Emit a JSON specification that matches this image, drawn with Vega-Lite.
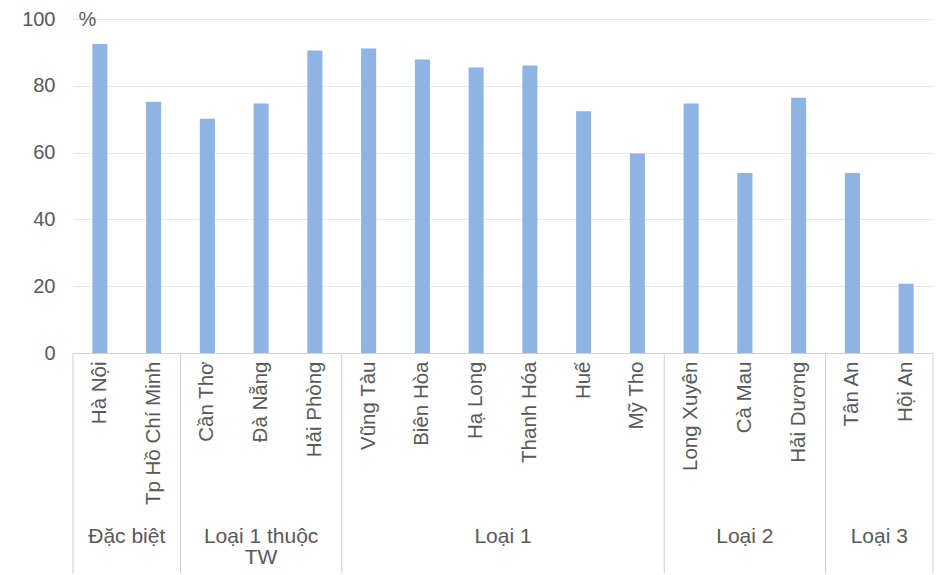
{
  "$schema": "https://vega.github.io/schema/vega-lite/v6.json",
  "autosize": "none",
  "width": 860,
  "height": 334,
  "padding": {"left": 73, "top": 19, "right": 7, "bottom": 222},
  "background": "#ffffff",
  "config": {
    "font": "Liberation Sans",
    "view": {"stroke": null},
    "axis": {"labelColor": "#595959", "titleColor": "#595959", "titleFontWeight": "normal"}
  },
  "data": {
    "values": [
      {"city": "Hà Nội", "group": "Đặc biệt", "value": 92.5},
      {"city": "Tp Hồ Chí Minh", "group": "Đặc biệt", "value": 75.2},
      {"city": "Cần Thơ", "group": "Loại 1 thuộc\nTW", "value": 70.1},
      {"city": "Đà Nẵng", "group": "Loại 1 thuộc\nTW", "value": 74.7},
      {"city": "Hải Phòng", "group": "Loại 1 thuộc\nTW", "value": 90.6},
      {"city": "Vũng Tàu", "group": "Loại 1", "value": 91.2},
      {"city": "Biên Hòa", "group": "Loại 1", "value": 87.9},
      {"city": "Hạ Long", "group": "Loại 1", "value": 85.5},
      {"city": "Thanh Hóa", "group": "Loại 1", "value": 86.1},
      {"city": "Huế", "group": "Loại 1", "value": 72.4},
      {"city": "Mỹ Tho", "group": "Loại 1", "value": 59.7},
      {"city": "Long Xuyên", "group": "Loại 2", "value": 74.7},
      {"city": "Cà Mau", "group": "Loại 2", "value": 53.9},
      {"city": "Hải Dương", "group": "Loại 2", "value": 76.4},
      {"city": "Tân An", "group": "Loại 3", "value": 53.9},
      {"city": "Hội An", "group": "Loại 3", "value": 20.7}
    ]
  },
  "layer": [
    {
      "mark": {"type": "bar", "color": "#8db4e2"},
      "encoding": {
        "x": {
          "field": "city",
          "type": "nominal",
          "sort": null,
          "scale": {"paddingInner": 0.72, "paddingOuter": 0.36},
          "axis": {
            "title": null,
            "labelAngle": -90,
            "labelAlign": "right",
            "labelBaseline": "middle",
            "labelPadding": 8,
            "labelFontSize": 20.5,
            "labelLimit": 200,
            "ticks": false,
            "domainColor": "#d0d0d0",
            "grid": false
          }
        },
        "y": {
          "field": "value",
          "type": "quantitative",
          "scale": {"domain": [0, 100], "nice": false},
          "axis": {
            "values": [0, 20, 40, 60, 80, 100],
            "grid": true,
            "gridColor": "#e8e8e8",
            "domain": false,
            "ticks": false,
            "labelFontSize": 20,
            "labelPadding": 18,
            "title": "%",
            "titleAngle": 0,
            "titleAlign": "left",
            "titleBaseline": "middle",
            "titleFontSize": 20,
            "titleX": 5,
            "titleY": 0
          }
        }
      }
    },
    {
      "transform": [
        {"window": [{"op": "row_number", "as": "idx"}]},
        {"aggregate": [{"op": "min", "field": "idx", "as": "first"}, {"op": "max", "field": "idx", "as": "last"}], "groupby": ["group"]},
        {"calculate": "datum.first - 1", "as": "start"},
        {"fold": ["start", "last"], "as": ["edge", "pos"]},
        {"aggregate": [{"op": "count", "as": "n"}], "groupby": ["pos"]}
      ],
      "mark": {"type": "rule", "color": "#d0d0d0", "strokeWidth": 1},
      "encoding": {
        "x": {"field": "pos", "type": "quantitative", "scale": {"domain": [0, 16], "nice": false, "zero": false}, "axis": null},
        "y": {"datum": 0, "type": "quantitative"},
        "y2": {"datum": -66}
      }
    },
    {
      "transform": [
        {"window": [{"op": "row_number", "as": "idx"}]},
        {"aggregate": [{"op": "min", "field": "idx", "as": "first"}, {"op": "max", "field": "idx", "as": "last"}], "groupby": ["group"]},
        {"calculate": "(datum.first + datum.last - 1) / 2", "as": "mid"}
      ],
      "mark": {"type": "text", "fontSize": 21, "color": "#595959", "align": "center", "baseline": "alphabetic", "lineBreak": "\n", "lineHeight": 21},
      "encoding": {
        "x": {"field": "mid", "type": "quantitative", "scale": {"domain": [0, 16], "nice": false, "zero": false}, "axis": null},
        "y": {"datum": -57, "type": "quantitative"},
        "text": {"field": "group"}
      }
    }
  ],
  "resolve": {"scale": {"x": "independent"}}
}
